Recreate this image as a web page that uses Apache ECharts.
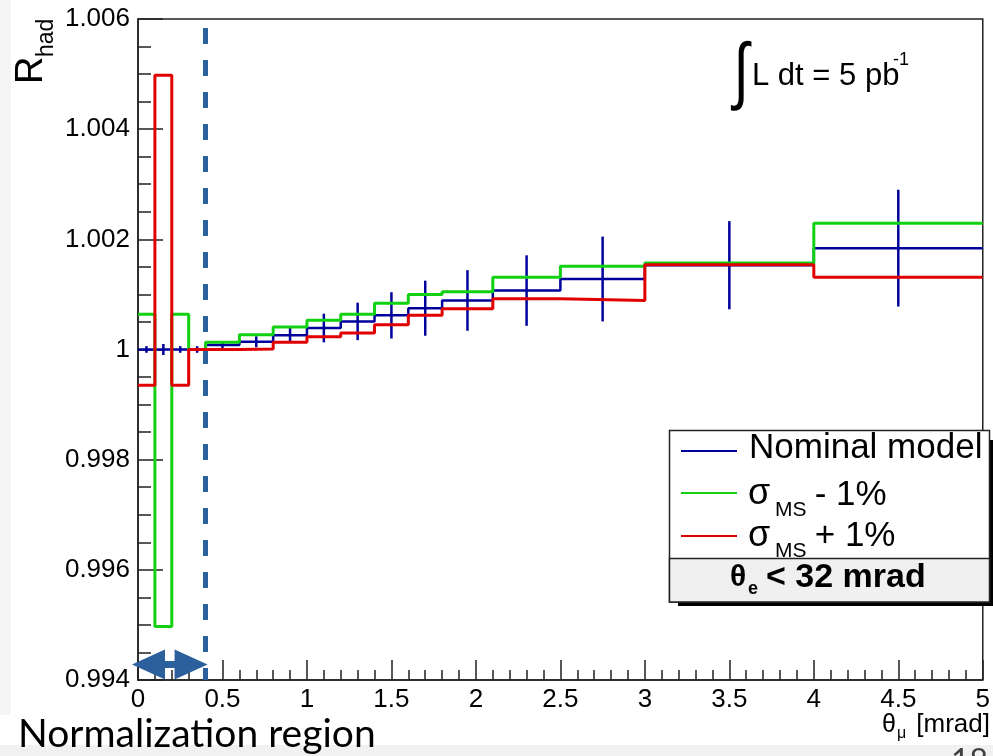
<!DOCTYPE html>
<html>
<head>
<meta charset="utf-8">
<script src="https://cdn.jsdelivr.net/npm/echarts@6/dist/echarts.min.js"></script>
<style>
  html, body { margin: 0; padding: 0; background: #ffffff; }
  #chart { width: 993px; height: 756px; }
</style>
</head>
<body>
<div id="chart"></div>
<script>
// Bin edges of theta_mu [mrad]
const binEdges = [0, 0.1, 0.2, 0.3, 0.4, 0.6, 0.8, 1.0, 1.2, 1.4, 1.6, 1.8, 2.1, 2.5, 3.0, 4.0, 5.0];

// R_had per bin
const nominal    = [1.0, 1.0, 1.0, 1.0, 1.00008, 1.00014, 1.00026, 1.00039, 1.00051, 1.00062, 1.00075, 1.00089, 1.00107, 1.00128, 1.00153, 1.00184];
const nominalErr = [0.00006, 0.0001, 0.00006, 0.00006, 0.00007, 0.0001, 0.00014, 0.00026, 0.00034, 0.00042, 0.0005, 0.00055, 0.00064, 0.00077, 0.0008, 0.00106];
const msMinus    = [1.00064, 0.99497, 1.00064, 1.0, 1.00013, 1.00027, 1.00041, 1.00053, 1.00064, 1.00084, 1.001, 1.00105, 1.00131, 1.00151, 1.00157, 1.00229];
const msPlus     = [0.99935, 1.00498, 0.99935, 1.0, 1.0, 1.00001, 1.00013, 1.00023, 1.0003, 1.00045, 1.00062, 1.00074, 1.00092, 1.00089, 1.00154, 1.00131];

// Normalization window [mrad]
const normRange = [0, 0.4];

const FONT = '"Liberation Sans", Arial, Helvetica, sans-serif';
const SLIDE_FONT = 'Lato, "Noto Sans", sans-serif';
const C_NOM = '#00009c';
const C_MINUS = '#12d012';
const C_PLUS = '#e00000';
const C_NORM = '#2b609d';

// histogram outline: each bin as a flat segment between its edges
function histSteps(vals) {
  const pts = [];
  vals.forEach((v, i) => {
    pts.push([binEdges[i], v]);
    pts.push([binEdges[i + 1], v]);
  });
  return pts;
}

function errPoints() {
  return nominal.map((v, i) => [(binEdges[i] + binEdges[i + 1]) / 2, v, nominalErr[i]]);
}

const chart = echarts.init(document.getElementById('chart'), null, { renderer: 'canvas' });

const axisLineStyle = { color: '#222', width: 1.5 };

chart.setOption({
  animation: false,
  backgroundColor: '#ffffff',
  grid: {
    left: 138, right: 5, top: 19, bottom: 76,
    show: true, borderColor: '#222', borderWidth: 1.5, backgroundColor: 'transparent'
  },
  xAxis: {
    type: 'value', min: 0, max: 5, interval: 0.5,
    axisLine: { show: true, onZero: false, lineStyle: axisLineStyle },
    axisTick: { show: true, inside: true, length: 20, lineStyle: axisLineStyle },
    minorTick: { show: true, splitNumber: 5, length: 10, lineStyle: axisLineStyle },
    splitLine: { show: false },
    axisLabel: {
      show: true, margin: 7, fontSize: 26, color: '#000', fontFamily: FONT,
      showMinLabel: true, showMaxLabel: true,
      formatter: v => String(Math.round(v * 10) / 10)
    }
  },
  yAxis: {
    type: 'value', min: 0.994, max: 1.006, interval: 0.002,
    axisLine: { show: true, onZero: false, lineStyle: axisLineStyle },
    axisTick: { show: true, inside: true, length: 25, lineStyle: axisLineStyle },
    minorTick: { show: true, splitNumber: 4, length: 13, lineStyle: axisLineStyle },
    splitLine: { show: false },
    axisLabel: {
      show: true, margin: 8, fontSize: 26, color: '#000', fontFamily: FONT,
      showMinLabel: true, showMaxLabel: true,
      formatter: v => (Math.abs(v - 1) < 1e-9 ? '1' : v.toFixed(3))
    }
  },
  series: [
    {
      name: 'Nominal model', type: 'line', data: histSteps(nominal),
      showSymbol: false, symbol: 'none',
      lineStyle: { color: C_NOM, width: 2.5 }, z: 2,
      markLine: {
        silent: true, symbol: ['none', 'none'], label: { show: false },
        lineStyle: { color: C_NORM, width: 5, type: [16, 16], dashOffset: 4 },
        data: [{ xAxis: normRange[1] }]
      }
    },
    {
      name: 'errors', type: 'custom', data: errPoints(), z: 3,
      renderItem: (params, api) => {
        const x = api.value(0), y = api.value(1), e = api.value(2);
        const a = api.coord([x, y + e]);
        const b = api.coord([x, y - e]);
        return {
          type: 'line',
          shape: { x1: a[0], y1: a[1], x2: b[0], y2: b[1] },
          style: { stroke: C_NOM, lineWidth: 2.5 }
        };
      }
    },
    {
      name: 'msMinus', type: 'line', data: histSteps(msMinus),
      showSymbol: false, symbol: 'none',
      lineStyle: { color: C_MINUS, width: 3 }, z: 4
    },
    {
      name: 'msPlus', type: 'line', data: histSteps(msPlus),
      showSymbol: false, symbol: 'none',
      lineStyle: { color: C_PLUS, width: 3 }, z: 5
    }
  ]
});

// ---- annotations -------------------------------------------------------
function txt(x, y, text, size, opts) {
  opts = opts || {};
  return {
    type: 'text', x: x, y: y, rotation: opts.rotation || 0,
    scaleX: opts.scaleX || 1, z: 100,
    style: {
      text: text, fill: opts.fill || '#000',
      font: (opts.weight || 'normal') + ' ' + size + 'px ' + (opts.family || FONT),
      align: opts.align || 'left', verticalAlign: opts.valign || 'middle'
    }
  };
}

// double arrow spanning the normalization window, just below the x axis ticks
const yArrow = 0.99428;
const pL = chart.convertToPixel({ xAxisIndex: 0, yAxisIndex: 0 }, [normRange[0], yArrow]);
const pR = chart.convertToPixel({ xAxisIndex: 0, yAxisIndex: 0 }, [normRange[1], yArrow]);
const tipL = pL[0] - 6, tipR = pR[0] + 2, ay = pL[1];
const headLen = 33, headH = 15, shaftH = 3.5;

const graphics = [
  // slide background strips
  { type: 'rect', shape: { x: 0, y: 0, width: 11, height: 715 }, style: { fill: '#f5f5f5' }, z: -10 },
  { type: 'rect', shape: { x: 0, y: 745, width: 993, height: 11 }, style: { fill: '#f1f1f1' }, z: -10 },

  // arrow
  {
    type: 'polygon', z: 50,
    shape: { points: [
      [tipL, ay], [tipL + headLen, ay - headH], [tipL + headLen, ay - shaftH],
      [tipR - headLen, ay - shaftH], [tipR - headLen, ay - headH], [tipR, ay],
      [tipR - headLen, ay + headH], [tipR - headLen, ay + shaftH],
      [tipL + headLen, ay + shaftH], [tipL + headLen, ay + headH]
    ] },
    style: { fill: C_NORM }
  },

  // y axis title R_had (rotated)
  txt(32, 84, 'R', 38, { rotation: Math.PI / 2 }),
  txt(47, 57, 'had', 23, { rotation: Math.PI / 2 }),

  // x axis title theta_mu [mrad]
  txt(882, 725, 'θ', 25),
  txt(897, 734, 'μ', 16),
  txt(990, 725, '[mrad]', 26, { align: 'right' }),

  // luminosity
  { type: 'text', x: 741, y: 75, z: 100, scaleX: 0.75,
    style: { text: '∫', fill: '#000', font: 'normal 74px ' + FONT, align: 'center', verticalAlign: 'middle' } },
  txt(752, 76, 'L dt = 5 pb', 31),
  txt(893, 60, '-1', 18),

  // legend shadow and box
  { type: 'rect', z: 60, shape: { x: 678, y: 440, width: 316, height: 166 }, style: { fill: '#000' } },
  { type: 'rect', z: 61, shape: { x: 669.5, y: 430.5, width: 320, height: 171.5 }, style: { fill: '#fff', stroke: '#222', lineWidth: 1.5 } },
  { type: 'rect', z: 62, shape: { x: 669.5, y: 558.5, width: 320, height: 43.5 }, style: { fill: '#f0f0f0', stroke: '#222', lineWidth: 1.5 } },

  { type: 'line', z: 63, shape: { x1: 681, y1: 451, x2: 737, y2: 451 }, style: { stroke: C_NOM, lineWidth: 2 } },
  { type: 'line', z: 63, shape: { x1: 681, y1: 493, x2: 737, y2: 493 }, style: { stroke: C_MINUS, lineWidth: 2 } },
  { type: 'line', z: 63, shape: { x1: 681, y1: 536, x2: 737, y2: 536 }, style: { stroke: C_PLUS, lineWidth: 2 } },

  txt(749, 448, 'Nominal model', 35),
  txt(748, 494, 'σ', 36),
  txt(775, 510, 'MS', 21),
  txt(805, 495, ' - 1%', 35),
  txt(748, 536, 'σ', 36),
  txt(775, 551, 'MS', 21),
  txt(805, 536, ' + 1%', 35),

  txt(730, 578, 'θ', 30, { weight: 'bold' }),
  txt(748, 589, 'e', 18, { weight: 'bold' }),
  txt(766, 578, '< 32 mrad', 34, { weight: 'bold' }),

  // slide caption
  txt(18, 734, 'Normalization region', 39, { family: SLIDE_FONT }),
  txt(951, 762, '18', 32, { family: SLIDE_FONT, fill: '#404040' })
];

chart.setOption({ graphic: graphics.map(g => Object.assign({ silent: true }, g)) });
</script>
</body>
</html>
